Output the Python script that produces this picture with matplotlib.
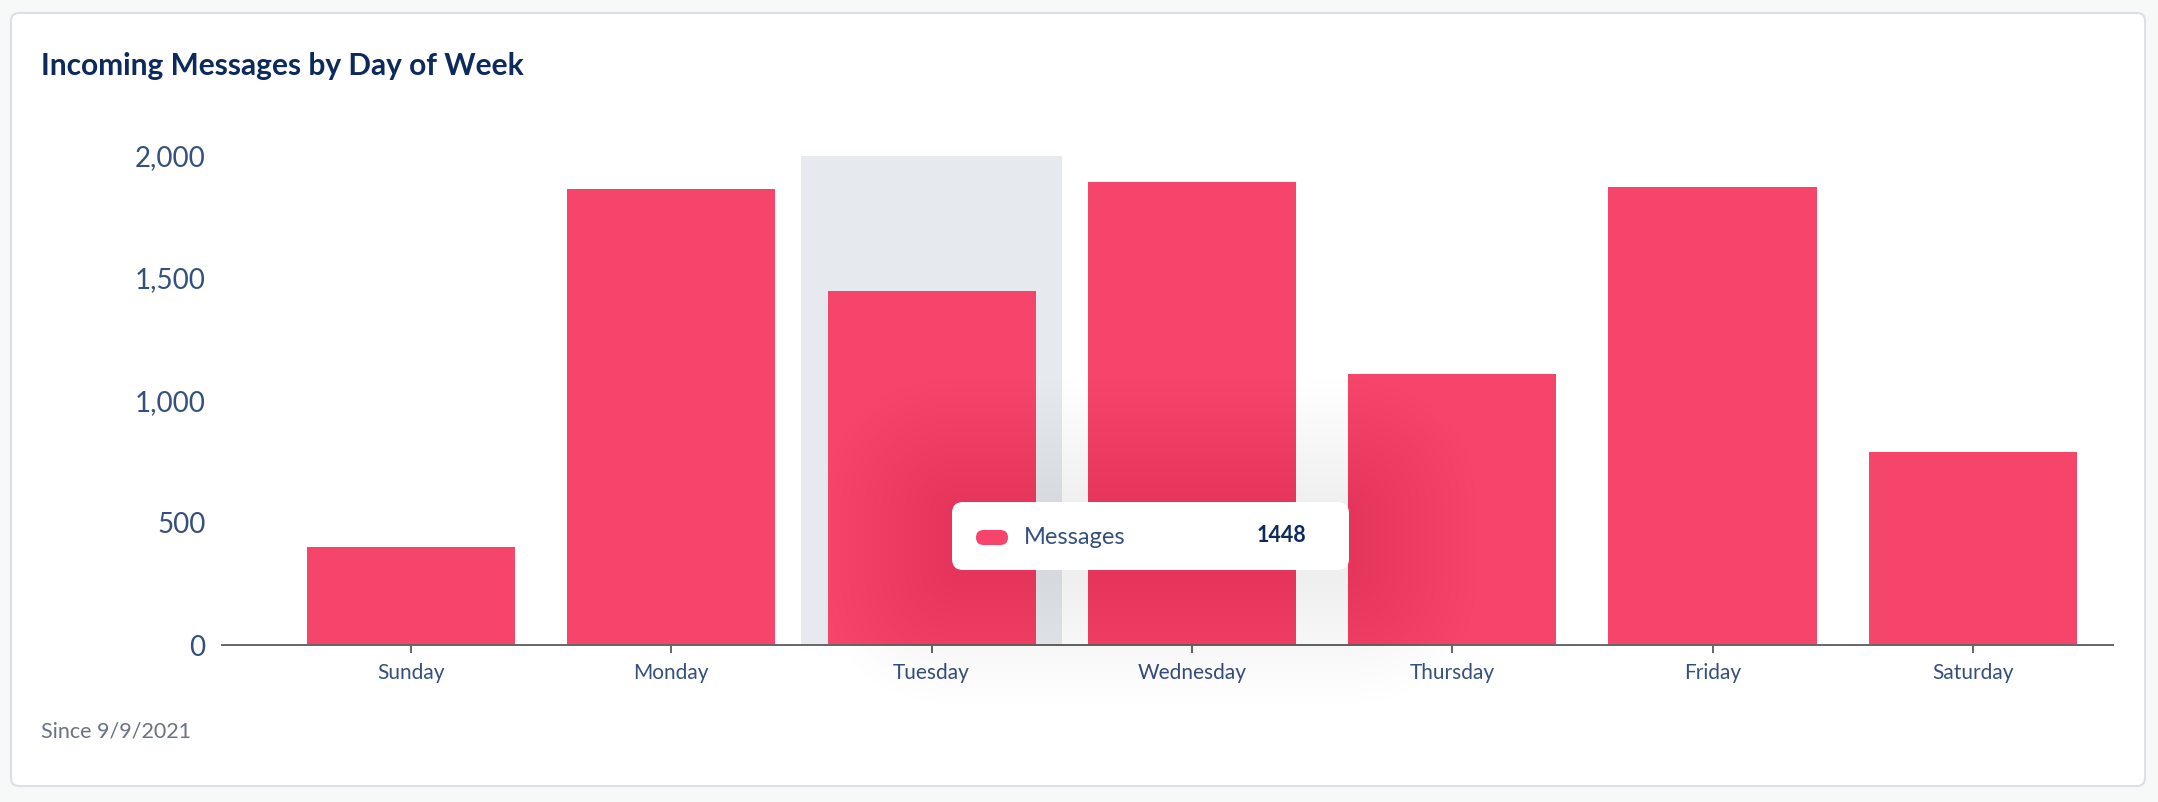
#%% imports
import numpy as np
import matplotlib.pyplot as plt
from matplotlib.patches import FancyBboxPatch
from matplotlib.transforms import IdentityTransform
from matplotlib.ticker import FuncFormatter

#%% data
days = ['Sunday', 'Monday', 'Tuesday', 'Wednesday', 'Thursday', 'Friday', 'Saturday']
messages = [399, 1862, 1448, 1893, 1107, 1870, 788]
y_ticks = [0, 500, 1000, 1500, 2000]
hover_idx = 2  # Tuesday is hovered in the screenshot

#%% styles
plt.rcParams['font.family'] = ['Lato', 'DejaVu Sans']
bar_color = '#f5456b'
label_color = '#34507f'
title_color = '#0c2a5c'
W, H = 2158, 802


def fx(px):
    return px / W


def fy(py):
    return 1 - py / H


def px_box(x0, y0, x1, y1, r, **kw):
    # rounded box in pixel coords measured from the top-left corner
    return FancyBboxPatch((x0, H - y1), x1 - x0, y1 - y0,
                          boxstyle=f'round,pad=0,rounding_size={r}',
                          transform=IdentityTransform(), **kw)


fig = plt.figure(figsize=(W / 100, H / 100), dpi=100)
fig.patch.set_facecolor('#f7f8f8')

# card background
fig.patches.append(px_box(11, 13, 2145, 786, 8, facecolor='white',
                          edgecolor='#dcdfe3', linewidth=1.5, zorder=-1))

ax = fig.add_axes([fx(222), fy(645), fx(2113) - fx(222), fy(155.5) - fy(645)])
ax.set_facecolor('none')
ax.set_zorder(1)

x = np.arange(len(days))
ax.axvspan(hover_idx - 0.5, hover_idx + 0.5, ymin=0, ymax=1, color='#e6e9ee', zorder=1, lw=0)
ax.bar(x, messages, width=0.8, color=bar_color, zorder=2)

ax.set_xlim(-0.726, 6.538)
ax.set_ylim(0, 2000)
ax.set_xticks(x)
ax.set_xticklabels(days)
ax.set_yticks(y_ticks)
ax.yaxis.set_major_formatter(FuncFormatter(lambda v, p: f'{v:,.0f}'))

for s in ['top', 'right', 'left']:
    ax.spines[s].set_visible(False)
ax.spines['bottom'].set_color('#666666')
ax.spines['bottom'].set_linewidth(1.4)

ax.tick_params(axis='x', length=6, width=1.4, color='#666666', pad=7,
               labelsize=15, labelcolor=label_color)
ax.tick_params(axis='y', length=0, pad=12, labelsize=20, labelcolor=label_color)

# title and footer
fig.text(fx(41), fy(66), 'Incoming Messages by Day of Week', fontsize=21.5,
         fontweight='bold', color=title_color, va='center', ha='left')
fig.text(fx(41), fy(732), 'Since 9/9/2021', fontsize=15.5, color='#6b7280',
         va='center', ha='left')

#%% tooltip with soft shadow
tx0, ty0, tx1, ty1 = 952, 502, 1349, 570
n_layers = 16
for i in range(n_layers):
    g = (n_layers - i) * 8
    fig.patches.append(px_box(tx0 - g, ty0 - g + 6, tx1 + g, ty1 + g + 6, 12 + g,
                              facecolor='#50202c', edgecolor='none',
                              alpha=0.0022, zorder=5))
fig.patches.append(px_box(tx0, ty0, tx1, ty1, 11, facecolor='white',
                          edgecolor='none', zorder=6))
fig.patches.append(px_box(976, 530, 1008, 545, 7.5, facecolor=bar_color,
                          edgecolor='none', zorder=7))
fig.text(fx(1024), fy(537), 'Messages', fontsize=17, color=label_color,
         va='center', ha='left', zorder=8)
fig.text(fx(1306), fy(536), str(messages[hover_idx]), fontsize=15.5,
         fontweight='bold', color=title_color, va='center', ha='right', zorder=8)

plt.savefig('out.png', dpi=100)
